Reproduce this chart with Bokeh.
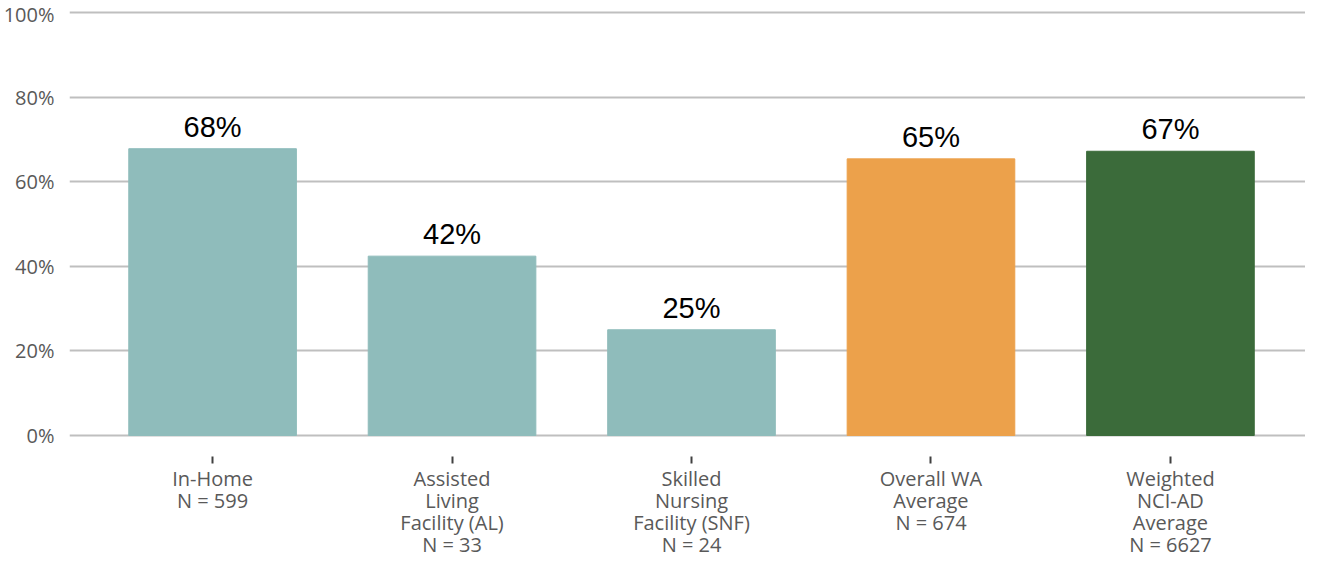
from bokeh.plotting import figure
from bokeh.models import ColumnDataSource, FixedTicker, Range1d
from bokeh.core.properties import value
from bokeh.embed import file_html
from bokeh.resources import INLINE

categories = [
    "In-Home\nN = 599",
    "Assisted\nLiving\nFacility (AL)\nN = 33",
    "Skilled\nNursing\nFacility (SNF)\nN = 24",
    "Overall WA\nAverage\nN = 674",
    "Weighted\nNCI-AD\nAverage\nN = 6627",
]
percent_values = [67.8, 42.4, 25.0, 65.4, 67.2]
bar_colors = ["#8FBCBB", "#8FBCBB", "#8FBCBB", "#ECA14B", "#3B6B3A"]
y_ticks = [0, 20, 40, 60, 80, 100]

xs = list(range(len(categories)))
labels = [f"{round(v)}%" for v in percent_values]

src = ColumnDataSource(dict(x=xs, top=percent_values, color=bar_colors, label=labels))

p = figure(width=1305, height=563, output_backend="svg", toolbar_location=None,
           x_range=Range1d(-0.5975, 4.564), y_range=Range1d(-30.26, 102.84),
           min_border=0, min_border_top=0, min_border_left=61, min_border_right=0,
           min_border_bottom=0)
p.outline_line_color = None
p.background_fill_color = "white"
p.border_fill_color = "white"

p.vbar(x="x", top="top", bottom=0, width=0.7, color="color", source=src)
p.text(x="x", y="top", text="label", source=src, text_align="center",
       text_baseline="bottom", y_offset=-6, text_font=value("Liberation Sans"),
       text_font_size="29px", text_color="black")

p.xgrid.grid_line_color = None
p.ygrid.grid_line_color = "#BFBFBF"
p.ygrid.grid_line_width = 2
p.ygrid.ticker = FixedTicker(ticks=y_ticks)

p.yaxis.ticker = FixedTicker(ticks=y_ticks)
p.yaxis.major_label_overrides = {t: f"{t}%" for t in y_ticks}
p.yaxis.axis_line_color = None
p.yaxis.major_tick_line_color = None
p.yaxis.minor_tick_line_color = None
p.yaxis.major_label_standoff = 9
p.yaxis.major_label_text_font = "Open Sans"
p.yaxis.major_label_text_font_size = "20px"
p.yaxis.major_label_text_color = "#595959"

p.xaxis.fixed_location = 0
p.xaxis.ticker = FixedTicker(ticks=xs)
p.xaxis.major_label_overrides = {i: c for i, c in zip(xs, categories)}
p.xaxis.axis_line_color = None
p.xaxis.minor_tick_line_color = None
p.xaxis.major_tick_line_color = "#404040"
p.xaxis.major_tick_line_width = 2
p.xaxis.major_tick_in = -21
p.xaxis.major_tick_out = 28
p.xaxis.major_label_standoff = 1
p.xaxis.major_label_text_font = "Open Sans"
p.xaxis.major_label_text_font_size = "20px"
p.xaxis.major_label_text_color = "#595959"
p.xaxis.major_label_text_line_height = 0.82

open("out.html", "w").write(file_html(p, INLINE))
